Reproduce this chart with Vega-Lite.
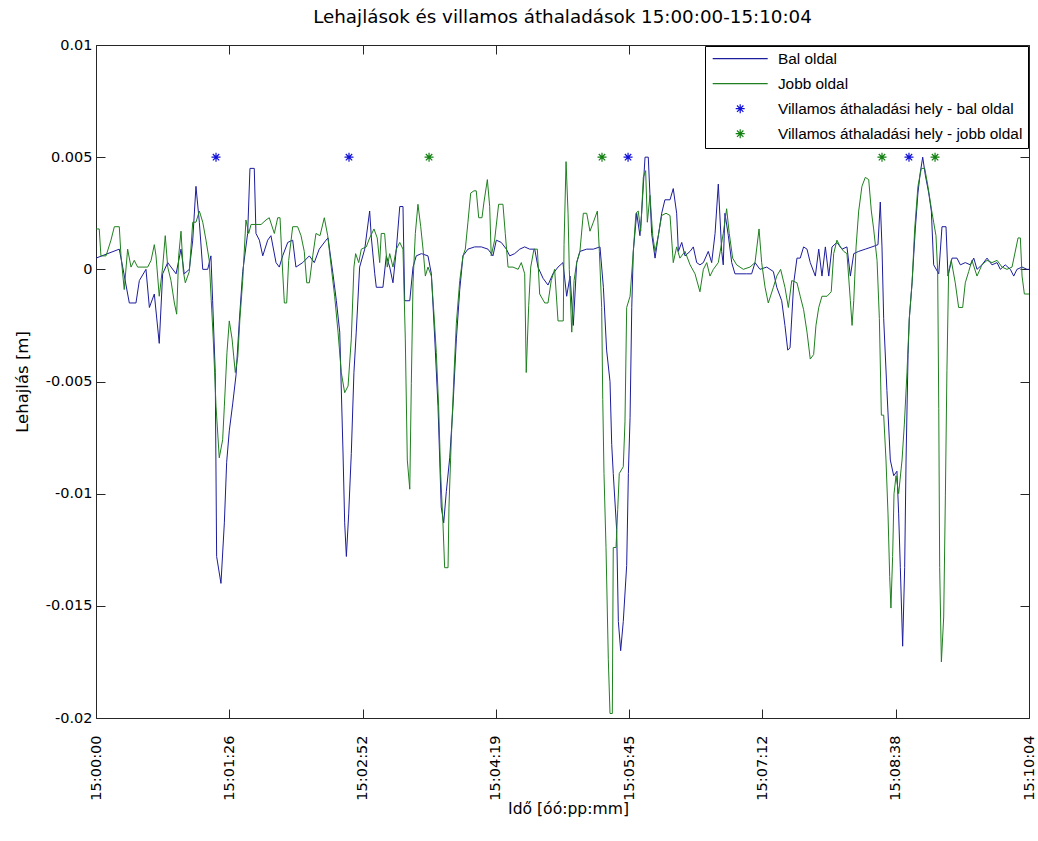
{
"$schema":"https://vega.github.io/schema/vega-lite/v6.json",
"width":933,"height":673,
"autosize":{"type":"none"},
"padding":{"left":96,"top":45,"right":9,"bottom":123},
"background":"white",
"title":{"text":"Lehajlások és villamos áthaladások 15:00:00-15:10:04","font":"DejaVu Sans","fontSize":18.3,"fontWeight":"normal","color":"#000","anchor":"middle","offset":10},
"config":{
"view":{"stroke":"#262626","strokeWidth":1},
"axis":{"grid":false,"domain":false,"tickColor":"#262626","tickSize":-9,"labelFont":"DejaVu Sans","labelFontSize":14.5,"labelColor":"#000","titleFont":"DejaVu Sans","titleFontWeight":"normal","titleColor":"#000","labelFlush":false,"labelOverlap":false},
"legend":{"title":null,"orient":"top-right","offset":1,"strokeColor":"#000","fillColor":"#fff","padding":5,"rowPadding":8,"symbolSize":100,"symbolStrokeWidth":1.2,"symbolOffset":22.5,"labelOffset":30,"labelFont":"Liberation Sans","labelFontSize":15.4,"labelColor":"#000","labelLimit":0,"cornerRadius":0}
},
"datasets":{
"lines":[
{"series":"Bal oldal","t":0,"v":0.0005},{"series":"Bal oldal","t":15.1,"v":0.0009},{"series":"Bal oldal","t":17.3,"v":0.0001},{"series":"Bal oldal","t":21.6,"v":-0.0015},{"series":"Bal oldal","t":25.9,"v":-0.0015},{"series":"Bal oldal","t":28.1,"v":-0.0005},{"series":"Bal oldal","t":32.4,"v":0},{"series":"Bal oldal","t":34.6,"v":-0.0017},{"series":"Bal oldal","t":37.8,"v":-0.0011},{"series":"Bal oldal","t":41.0,"v":-0.0033},{"series":"Bal oldal","t":43.2,"v":-0.0002},{"series":"Bal oldal","t":46.5,"v":0.0003},{"series":"Bal oldal","t":51.9,"v":-0.0002},{"series":"Bal oldal","t":55.1,"v":0.0009},{"series":"Bal oldal","t":57.2,"v":-0.0002},{"series":"Bal oldal","t":60.5,"v":0},{"series":"Bal oldal","t":62.7,"v":0.0013},{"series":"Bal oldal","t":64.8,"v":0.0037},{"series":"Bal oldal","t":67.0,"v":0.0021},{"series":"Bal oldal","t":69.2,"v":0},{"series":"Bal oldal","t":72.4,"v":0},{"series":"Bal oldal","t":74.5,"v":0.0006},{"series":"Bal oldal","t":75.6,"v":-0.0014},{"series":"Bal oldal","t":77.3,"v":-0.0046},{"series":"Bal oldal","t":78.2,"v":-0.0128},{"series":"Bal oldal","t":81.0,"v":-0.014},{"series":"Bal oldal","t":83.2,"v":-0.0113},{"series":"Bal oldal","t":84.7,"v":-0.0086},{"series":"Bal oldal","t":86.4,"v":-0.0072},{"series":"Bal oldal","t":88.6,"v":-0.006},{"series":"Bal oldal","t":90.8,"v":-0.0047},{"series":"Bal oldal","t":92.9,"v":-0.0023},{"series":"Bal oldal","t":95.1,"v":-0.0001},{"series":"Bal oldal","t":98.3,"v":0.0016},{"series":"Bal oldal","t":99.8,"v":0.0045},{"series":"Bal oldal","t":102.6,"v":0.0045},{"series":"Bal oldal","t":103.7,"v":0.0016},{"series":"Bal oldal","t":105.9,"v":0.0013},{"series":"Bal oldal","t":108.1,"v":0.0006},{"series":"Bal oldal","t":111.3,"v":0.0013},{"series":"Bal oldal","t":113.4,"v":0.0015},{"series":"Bal oldal","t":116.7,"v":0.0003},{"series":"Bal oldal","t":118.8,"v":0.0001},{"series":"Bal oldal","t":121.0,"v":0.0006},{"series":"Bal oldal","t":124.3,"v":0.0012},{"series":"Bal oldal","t":127.5,"v":0.0013},{"series":"Bal oldal","t":129.6,"v":0.0001},{"series":"Bal oldal","t":134.0,"v":0.0003},{"series":"Bal oldal","t":138.3,"v":0.0006},{"series":"Bal oldal","t":141.5,"v":0.0003},{"series":"Bal oldal","t":144.7,"v":0.0009},{"series":"Bal oldal","t":149.1,"v":0.0013},{"series":"Bal oldal","t":150.4,"v":0.0014},{"series":"Bal oldal","t":153.6,"v":-0.0002},{"series":"Bal oldal","t":155.8,"v":-0.0014},{"series":"Bal oldal","t":158.0,"v":-0.0028},{"series":"Bal oldal","t":160.1,"v":-0.0081},{"series":"Bal oldal","t":161.2,"v":-0.0113},{"series":"Bal oldal","t":162.3,"v":-0.0128},{"series":"Bal oldal","t":163.8,"v":-0.0109},{"series":"Bal oldal","t":165.5,"v":-0.0082},{"series":"Bal oldal","t":167.2,"v":-0.0046},{"series":"Bal oldal","t":168.7,"v":-0.0028},{"series":"Bal oldal","t":170.9,"v":0.0001},{"series":"Bal oldal","t":174.2,"v":0.0009},{"series":"Bal oldal","t":177.4,"v":0.0026},{"series":"Bal oldal","t":178.5,"v":0.0014},{"series":"Bal oldal","t":180.7,"v":-0.0002},{"series":"Bal oldal","t":181.7,"v":-0.0008},{"series":"Bal oldal","t":186.0,"v":-0.0008},{"series":"Bal oldal","t":188.2,"v":0.0006},{"series":"Bal oldal","t":190.4,"v":0.0001},{"series":"Bal oldal","t":192.5,"v":-0.0006},{"series":"Bal oldal","t":194.7,"v":0.0009},{"series":"Bal oldal","t":196.9,"v":0.0028},{"series":"Bal oldal","t":199.0,"v":0.0028},{"series":"Bal oldal","t":200.1,"v":-0.0014},{"series":"Bal oldal","t":203.4,"v":-0.0014},{"series":"Bal oldal","t":205.5,"v":0.0001},{"series":"Bal oldal","t":207.6,"v":0.0006},{"series":"Bal oldal","t":210.9,"v":0.0007},{"series":"Bal oldal","t":215.2,"v":0.0006},{"series":"Bal oldal","t":217.4,"v":-0.0002},{"series":"Bal oldal","t":219.6,"v":-0.0031},{"series":"Bal oldal","t":221.7,"v":-0.0061},{"series":"Bal oldal","t":223.8,"v":-0.0106},{"series":"Bal oldal","t":225.4,"v":-0.0113},{"series":"Bal oldal","t":227.1,"v":-0.0099},{"series":"Bal oldal","t":229.3,"v":-0.0084},{"series":"Bal oldal","t":231.4,"v":-0.0061},{"series":"Bal oldal","t":233.6,"v":-0.0031},{"series":"Bal oldal","t":235.8,"v":-0.0009},{"series":"Bal oldal","t":237.9,"v":0.0006},{"series":"Bal oldal","t":241.1,"v":0.0009},{"series":"Bal oldal","t":245.5,"v":0.001},{"series":"Bal oldal","t":249.8,"v":0.001},{"series":"Bal oldal","t":254.1,"v":0.0009},{"series":"Bal oldal","t":257.3,"v":0.0006},{"series":"Bal oldal","t":259.5,"v":0.0013},{"series":"Bal oldal","t":262.7,"v":0.0012},{"series":"Bal oldal","t":266.0,"v":0.0009},{"series":"Bal oldal","t":268.2,"v":0.0006},{"series":"Bal oldal","t":271.4,"v":0.0007},{"series":"Bal oldal","t":274.7,"v":0.0009},{"series":"Bal oldal","t":277.9,"v":0.001},{"series":"Bal oldal","t":281.1,"v":0.0009},{"series":"Bal oldal","t":284.4,"v":0.0009},{"series":"Bal oldal","t":286.5,"v":0.0001},{"series":"Bal oldal","t":289.8,"v":-0.0004},{"series":"Bal oldal","t":293.0,"v":-0.0007},{"series":"Bal oldal","t":296.2,"v":-0.0002},{"series":"Bal oldal","t":299.5,"v":0.0001},{"series":"Bal oldal","t":302.7,"v":0.0003},{"series":"Bal oldal","t":305.1,"v":-0.0012},{"series":"Bal oldal","t":307.3,"v":-0.0003},{"series":"Bal oldal","t":309.4,"v":-0.0025},{"series":"Bal oldal","t":311.6,"v":0.0003},{"series":"Bal oldal","t":313.7,"v":0.0008},{"series":"Bal oldal","t":318.1,"v":0.0009},{"series":"Bal oldal","t":322.4,"v":0.0009},{"series":"Bal oldal","t":326.7,"v":0.001},{"series":"Bal oldal","t":328.9,"v":-0.0008},{"series":"Bal oldal","t":331.0,"v":-0.0036},{"series":"Bal oldal","t":333.2,"v":-0.005},{"series":"Bal oldal","t":334.3,"v":-0.0078},{"series":"Bal oldal","t":335.3,"v":-0.0091},{"series":"Bal oldal","t":337.5,"v":-0.0116},{"series":"Bal oldal","t":338.6,"v":-0.0157},{"series":"Bal oldal","t":340.1,"v":-0.017},{"series":"Bal oldal","t":341.8,"v":-0.0157},{"series":"Bal oldal","t":344.0,"v":-0.0132},{"series":"Bal oldal","t":345.1,"v":-0.0091},{"series":"Bal oldal","t":346.2,"v":-0.0066},{"series":"Bal oldal","t":347.3,"v":-0.0017},{"series":"Bal oldal","t":348.3,"v":0.0008},{"series":"Bal oldal","t":350.5,"v":0.0025},{"series":"Bal oldal","t":352.6,"v":0.0015},{"series":"Bal oldal","t":353.7,"v":0.0025},{"series":"Bal oldal","t":355.9,"v":0.005},{"series":"Bal oldal","t":358.0,"v":0.005},{"series":"Bal oldal","t":359.1,"v":0.0033},{"series":"Bal oldal","t":360.2,"v":0.0016},{"series":"Bal oldal","t":362.4,"v":0.0005},{"series":"Bal oldal","t":364.5,"v":0.0015},{"series":"Bal oldal","t":366.7,"v":0.0025},{"series":"Bal oldal","t":368.8,"v":0.0031},{"series":"Bal oldal","t":372.1,"v":0.0031},{"series":"Bal oldal","t":374.2,"v":0.0036},{"series":"Bal oldal","t":376.4,"v":0.0025},{"series":"Bal oldal","t":377.5,"v":0.0008},{"series":"Bal oldal","t":379.7,"v":0.0012},{"series":"Bal oldal","t":381.8,"v":0.0006},{"series":"Bal oldal","t":385.1,"v":0.0008},{"series":"Bal oldal","t":387.2,"v":0.001},{"series":"Bal oldal","t":389.4,"v":0.0003},{"series":"Bal oldal","t":391.5,"v":0.0002},{"series":"Bal oldal","t":393.7,"v":0.0003},{"series":"Bal oldal","t":396.9,"v":0.0008},{"series":"Bal oldal","t":399.1,"v":0.0003},{"series":"Bal oldal","t":401.3,"v":0.0016},{"series":"Bal oldal","t":403.4,"v":0.0038},{"series":"Bal oldal","t":405.6,"v":0.0008},{"series":"Bal oldal","t":406.6,"v":0.0002},{"series":"Bal oldal","t":407.7,"v":0.0025},{"series":"Bal oldal","t":409.9,"v":0.0015},{"series":"Bal oldal","t":412.1,"v":0.0003},{"series":"Bal oldal","t":414.2,"v":-0.0002},{"series":"Bal oldal","t":421.8,"v":-0.0002},{"series":"Bal oldal","t":425.0,"v":-0.0002},{"series":"Bal oldal","t":427.2,"v":0.0003},{"series":"Bal oldal","t":430.4,"v":0},{"series":"Bal oldal","t":434.8,"v":0.0001},{"series":"Bal oldal","t":439.1,"v":-0.0001},{"series":"Bal oldal","t":441.3,"v":-0.0008},{"series":"Bal oldal","t":444.5,"v":-0.0014},{"series":"Bal oldal","t":446.6,"v":-0.0025},{"series":"Bal oldal","t":448.4,"v":-0.0036},{"series":"Bal oldal","t":449.9,"v":-0.0035},{"series":"Bal oldal","t":452.3,"v":-0.0006},{"series":"Bal oldal","t":454.4,"v":0.0005},{"series":"Bal oldal","t":456.5,"v":0.0005},{"series":"Bal oldal","t":458.7,"v":0.001},{"series":"Bal oldal","t":460.9,"v":0.0009},{"series":"Bal oldal","t":463.0,"v":0.0003},{"series":"Bal oldal","t":466.3,"v":-0.0003},{"series":"Bal oldal","t":468.5,"v":0.0009},{"series":"Bal oldal","t":470.6,"v":-0.0003},{"series":"Bal oldal","t":472.8,"v":0.001},{"series":"Bal oldal","t":475.0,"v":-0.0003},{"series":"Bal oldal","t":477.1,"v":0.001},{"series":"Bal oldal","t":480.3,"v":0.0012},{"series":"Bal oldal","t":483.6,"v":0.0009},{"series":"Bal oldal","t":486.8,"v":0.001},{"series":"Bal oldal","t":489.0,"v":-0.0003},{"series":"Bal oldal","t":491.2,"v":0.0007},{"series":"Bal oldal","t":494.4,"v":0.0008},{"series":"Bal oldal","t":498.7,"v":0.0009},{"series":"Bal oldal","t":503.0,"v":0.001},{"series":"Bal oldal","t":506.9,"v":0.0011},{"series":"Bal oldal","t":508.4,"v":0.003},{"series":"Bal oldal","t":509.5,"v":0.001},{"series":"Bal oldal","t":510.6,"v":-0.0022},{"series":"Bal oldal","t":512.7,"v":-0.0054},{"series":"Bal oldal","t":514.9,"v":-0.0085},{"series":"Bal oldal","t":517.1,"v":-0.0092},{"series":"Bal oldal","t":519.2,"v":-0.009},{"series":"Bal oldal","t":520.3,"v":-0.0109},{"series":"Bal oldal","t":521.4,"v":-0.0133},{"series":"Bal oldal","t":522.9,"v":-0.0168},{"series":"Bal oldal","t":524.2,"v":-0.0133},{"series":"Bal oldal","t":525.1,"v":-0.0085},{"series":"Bal oldal","t":526.4,"v":-0.0038},{"series":"Bal oldal","t":527.2,"v":-0.0022},{"series":"Bal oldal","t":529.0,"v":-0.0006},{"series":"Bal oldal","t":531.1,"v":0.0018},{"series":"Bal oldal","t":532.8,"v":0.0034},{"series":"Bal oldal","t":534.3,"v":0.0043},{"series":"Bal oldal","t":535.9,"v":0.005},{"series":"Bal oldal","t":537.6,"v":0.0042},{"series":"Bal oldal","t":539.8,"v":0.0034},{"series":"Bal oldal","t":541.5,"v":0.0026},{"series":"Bal oldal","t":543.0,"v":0.0002},{"series":"Bal oldal","t":546.3,"v":-0.0002},{"series":"Bal oldal","t":548.4,"v":0.0019},{"series":"Bal oldal","t":551.0,"v":0.0019},{"series":"Bal oldal","t":552.3,"v":-0.0003},{"series":"Bal oldal","t":554.9,"v":0.0005},{"series":"Bal oldal","t":558.1,"v":0.0005},{"series":"Bal oldal","t":560.3,"v":0.0002},{"series":"Bal oldal","t":563.5,"v":0.0003},{"series":"Bal oldal","t":566.8,"v":0.0002},{"series":"Bal oldal","t":569.0,"v":0.0005},{"series":"Bal oldal","t":571.1,"v":0},{"series":"Bal oldal","t":574.3,"v":0.0002},{"series":"Bal oldal","t":577.6,"v":0.0005},{"series":"Bal oldal","t":580.8,"v":0.0002},{"series":"Bal oldal","t":584.1,"v":0.0003},{"series":"Bal oldal","t":586.2,"v":0},{"series":"Bal oldal","t":589.4,"v":0.0002},{"series":"Bal oldal","t":592.7,"v":0},{"series":"Bal oldal","t":594.9,"v":-0.0003},{"series":"Bal oldal","t":597.0,"v":0},{"series":"Bal oldal","t":600.3,"v":0.0001},{"series":"Bal oldal","t":603.5,"v":0},{"series":"Bal oldal","t":604.8,"v":0},
{"series":"Jobb oldal","t":0,"v":0.0018},{"series":"Jobb oldal","t":2.1,"v":0.0018},{"series":"Jobb oldal","t":3.2,"v":0.0006},{"series":"Jobb oldal","t":6.5,"v":0.0006},{"series":"Jobb oldal","t":9.7,"v":0.0013},{"series":"Jobb oldal","t":11.9,"v":0.0019},{"series":"Jobb oldal","t":15.1,"v":0.0019},{"series":"Jobb oldal","t":16.2,"v":0.0006},{"series":"Jobb oldal","t":18.3,"v":-0.0009},{"series":"Jobb oldal","t":20.5,"v":0.0009},{"series":"Jobb oldal","t":22.7,"v":0.0001},{"series":"Jobb oldal","t":24.8,"v":0.0004},{"series":"Jobb oldal","t":27.0,"v":0.0001},{"series":"Jobb oldal","t":33.5,"v":0.0001},{"series":"Jobb oldal","t":35.7,"v":0.0004},{"series":"Jobb oldal","t":37.8,"v":0.0011},{"series":"Jobb oldal","t":38.9,"v":0.0006},{"series":"Jobb oldal","t":41.0,"v":-0.0012},{"series":"Jobb oldal","t":43.2,"v":0.0001},{"series":"Jobb oldal","t":44.9,"v":0.0015},{"series":"Jobb oldal","t":46.5,"v":0.0001},{"series":"Jobb oldal","t":48.6,"v":-0.0005},{"series":"Jobb oldal","t":50.8,"v":-0.0015},{"series":"Jobb oldal","t":52.3,"v":-0.002},{"series":"Jobb oldal","t":53.6,"v":0.0006},{"series":"Jobb oldal","t":55.1,"v":0.0017},{"series":"Jobb oldal","t":56.6,"v":-0.0001},{"series":"Jobb oldal","t":57.9,"v":-0.0006},{"series":"Jobb oldal","t":60.5,"v":-0.0001},{"series":"Jobb oldal","t":62.7,"v":0.0021},{"series":"Jobb oldal","t":64.8,"v":0.0021},{"series":"Jobb oldal","t":67.0,"v":0.0026},{"series":"Jobb oldal","t":69.2,"v":0.0021},{"series":"Jobb oldal","t":71.3,"v":0.0013},{"series":"Jobb oldal","t":73.4,"v":0.0004},{"series":"Jobb oldal","t":74.5,"v":-0.0011},{"series":"Jobb oldal","t":76.0,"v":-0.0031},{"series":"Jobb oldal","t":77.8,"v":-0.0061},{"series":"Jobb oldal","t":79.9,"v":-0.0084},{"series":"Jobb oldal","t":82.1,"v":-0.0076},{"series":"Jobb oldal","t":83.2,"v":-0.0061},{"series":"Jobb oldal","t":84.9,"v":-0.0037},{"series":"Jobb oldal","t":86.4,"v":-0.0023},{"series":"Jobb oldal","t":88.2,"v":-0.0031},{"series":"Jobb oldal","t":89.3,"v":-0.0039},{"series":"Jobb oldal","t":90.3,"v":-0.0046},{"series":"Jobb oldal","t":91.9,"v":-0.0039},{"series":"Jobb oldal","t":93.3,"v":-0.0022},{"series":"Jobb oldal","t":95.1,"v":-0.0005},{"series":"Jobb oldal","t":97.2,"v":0.0022},{"series":"Jobb oldal","t":99.0,"v":0.0016},{"series":"Jobb oldal","t":100.5,"v":0.002},{"series":"Jobb oldal","t":103.7,"v":0.002},{"series":"Jobb oldal","t":107.0,"v":0.002},{"series":"Jobb oldal","t":110.2,"v":0.0022},{"series":"Jobb oldal","t":112.3,"v":0.0023},{"series":"Jobb oldal","t":115.6,"v":0.0016},{"series":"Jobb oldal","t":117.8,"v":0.0023},{"series":"Jobb oldal","t":119.3,"v":0.0023},{"series":"Jobb oldal","t":120.6,"v":0.0004},{"series":"Jobb oldal","t":122.1,"v":-0.0015},{"series":"Jobb oldal","t":123.6,"v":-0.0015},{"series":"Jobb oldal","t":124.9,"v":0.0004},{"series":"Jobb oldal","t":127.5,"v":0.0019},{"series":"Jobb oldal","t":130.7,"v":0.0019},{"series":"Jobb oldal","t":132.9,"v":0.0015},{"series":"Jobb oldal","t":135.0,"v":0.0008},{"series":"Jobb oldal","t":136.6,"v":-0.0006},{"series":"Jobb oldal","t":138.3,"v":-0.0006},{"series":"Jobb oldal","t":140.5,"v":0.0006},{"series":"Jobb oldal","t":142.6,"v":0.0016},{"series":"Jobb oldal","t":145.2,"v":0.0015},{"series":"Jobb oldal","t":148.0,"v":0.0023},{"series":"Jobb oldal","t":150.2,"v":0.0015},{"series":"Jobb oldal","t":152.5,"v":0.0001},{"series":"Jobb oldal","t":154.7,"v":-0.0012},{"series":"Jobb oldal","t":156.9,"v":-0.0028},{"series":"Jobb oldal","t":159.0,"v":-0.0046},{"series":"Jobb oldal","t":161.2,"v":-0.0055},{"series":"Jobb oldal","t":163.4,"v":-0.0052},{"series":"Jobb oldal","t":165.5,"v":-0.0031},{"series":"Jobb oldal","t":167.2,"v":0.0001},{"series":"Jobb oldal","t":168.3,"v":0.0007},{"series":"Jobb oldal","t":170.3,"v":0.0003},{"series":"Jobb oldal","t":172.0,"v":0.0009},{"series":"Jobb oldal","t":175.2,"v":0.001},{"series":"Jobb oldal","t":177.4,"v":0.0014},{"series":"Jobb oldal","t":180.2,"v":0.0018},{"series":"Jobb oldal","t":182.3,"v":0.0014},{"series":"Jobb oldal","t":183.9,"v":0.0003},{"series":"Jobb oldal","t":184.9,"v":0.0016},{"series":"Jobb oldal","t":187.1,"v":0.0016},{"series":"Jobb oldal","t":188.8,"v":0.0001},{"series":"Jobb oldal","t":190.4,"v":0.0007},{"series":"Jobb oldal","t":192.5,"v":0.0001},{"series":"Jobb oldal","t":194.7,"v":0.0009},{"series":"Jobb oldal","t":196.9,"v":0.0012},{"series":"Jobb oldal","t":199.0,"v":0.0009},{"series":"Jobb oldal","t":200.5,"v":-0.0031},{"series":"Jobb oldal","t":201.8,"v":-0.0085},{"series":"Jobb oldal","t":203.4,"v":-0.0098},{"series":"Jobb oldal","t":204.4,"v":-0.0051},{"series":"Jobb oldal","t":205.5,"v":-0.0006},{"series":"Jobb oldal","t":207.0,"v":0.0016},{"series":"Jobb oldal","t":208.7,"v":0.0029},{"series":"Jobb oldal","t":210.5,"v":0.0019},{"series":"Jobb oldal","t":212.0,"v":0.0009},{"series":"Jobb oldal","t":213.5,"v":-0.0003},{"series":"Jobb oldal","t":215.2,"v":0.0001},{"series":"Jobb oldal","t":217.4,"v":-0.0003},{"series":"Jobb oldal","t":219.1,"v":-0.002},{"series":"Jobb oldal","t":220.6,"v":-0.0037},{"series":"Jobb oldal","t":222.1,"v":-0.0061},{"series":"Jobb oldal","t":223.4,"v":-0.0091},{"series":"Jobb oldal","t":224.9,"v":-0.0113},{"series":"Jobb oldal","t":226.0,"v":-0.0133},{"series":"Jobb oldal","t":228.2,"v":-0.0133},{"series":"Jobb oldal","t":228.8,"v":-0.0106},{"series":"Jobb oldal","t":230.3,"v":-0.0076},{"series":"Jobb oldal","t":232.1,"v":-0.0046},{"series":"Jobb oldal","t":233.6,"v":-0.0024},{"series":"Jobb oldal","t":235.8,"v":-0.0005},{"series":"Jobb oldal","t":237.9,"v":0.0006},{"series":"Jobb oldal","t":239.4,"v":0.0009},{"series":"Jobb oldal","t":241.1,"v":0.0021},{"series":"Jobb oldal","t":242.9,"v":0.0034},{"series":"Jobb oldal","t":245.0,"v":0.0035},{"series":"Jobb oldal","t":246.5,"v":0.0035},{"series":"Jobb oldal","t":248.1,"v":0.0023},{"series":"Jobb oldal","t":250.2,"v":0.0023},{"series":"Jobb oldal","t":251.5,"v":0.003},{"series":"Jobb oldal","t":253.7,"v":0.004},{"series":"Jobb oldal","t":255.2,"v":0.0028},{"series":"Jobb oldal","t":256.2,"v":0.0006},{"series":"Jobb oldal","t":258.4,"v":0.0013},{"series":"Jobb oldal","t":261.0,"v":0.0029},{"series":"Jobb oldal","t":263.8,"v":0.0029},{"series":"Jobb oldal","t":265.3,"v":0.0016},{"series":"Jobb oldal","t":267.1,"v":0.0001},{"series":"Jobb oldal","t":270.3,"v":0.0001},{"series":"Jobb oldal","t":273.6,"v":0},{"series":"Jobb oldal","t":275.7,"v":0.0003},{"series":"Jobb oldal","t":277.9,"v":-0.0002},{"series":"Jobb oldal","t":278.9,"v":-0.0046},{"series":"Jobb oldal","t":280.5,"v":-0.0016},{"series":"Jobb oldal","t":281.8,"v":0.0001},{"series":"Jobb oldal","t":283.9,"v":0.0009},{"series":"Jobb oldal","t":286.1,"v":0.0009},{"series":"Jobb oldal","t":287.6,"v":-0.0011},{"series":"Jobb oldal","t":290.9,"v":-0.0015},{"series":"Jobb oldal","t":293.0,"v":-0.0015},{"series":"Jobb oldal","t":295.1,"v":-0.0005},{"series":"Jobb oldal","t":297.3,"v":0},{"series":"Jobb oldal","t":299.5,"v":-0.0023},{"series":"Jobb oldal","t":302.9,"v":-0.0023},{"series":"Jobb oldal","t":303.4,"v":0.0011},{"series":"Jobb oldal","t":304.7,"v":0.0048},{"series":"Jobb oldal","t":306.0,"v":0.0025},{"series":"Jobb oldal","t":306.8,"v":0},{"series":"Jobb oldal","t":308.4,"v":-0.0028},{"series":"Jobb oldal","t":309.9,"v":-0.0005},{"series":"Jobb oldal","t":311.6,"v":0.0003},{"series":"Jobb oldal","t":313.7,"v":0.0008},{"series":"Jobb oldal","t":315.9,"v":0.0025},{"series":"Jobb oldal","t":318.1,"v":0.0025},{"series":"Jobb oldal","t":320.2,"v":0.0017},{"series":"Jobb oldal","t":322.4,"v":0.0021},{"series":"Jobb oldal","t":325.0,"v":0.0026},{"series":"Jobb oldal","t":326.3,"v":0.0008},{"series":"Jobb oldal","t":327.8,"v":-0.0017},{"series":"Jobb oldal","t":328.5,"v":-0.0058},{"series":"Jobb oldal","t":329.3,"v":-0.0091},{"series":"Jobb oldal","t":330.6,"v":-0.0124},{"series":"Jobb oldal","t":332.1,"v":-0.0174},{"series":"Jobb oldal","t":333.2,"v":-0.0198},{"series":"Jobb oldal","t":334.7,"v":-0.0198},{"series":"Jobb oldal","t":335.3,"v":-0.0124},{"series":"Jobb oldal","t":337.1,"v":-0.0124},{"series":"Jobb oldal","t":338.2,"v":-0.0107},{"series":"Jobb oldal","t":339.2,"v":-0.0091},{"series":"Jobb oldal","t":341.8,"v":-0.0088},{"series":"Jobb oldal","t":342.9,"v":-0.0068},{"series":"Jobb oldal","t":344.0,"v":-0.0017},{"series":"Jobb oldal","t":346.2,"v":-0.0012},{"series":"Jobb oldal","t":348.3,"v":0.0008},{"series":"Jobb oldal","t":350.0,"v":0.0025},{"series":"Jobb oldal","t":351.5,"v":0.0026},{"series":"Jobb oldal","t":353.1,"v":0.0017},{"series":"Jobb oldal","t":354.8,"v":0.0041},{"series":"Jobb oldal","t":356.3,"v":0.0044},{"series":"Jobb oldal","t":357.4,"v":0.0021},{"series":"Jobb oldal","t":359.1,"v":0.0033},{"series":"Jobb oldal","t":360.9,"v":0.0015},{"series":"Jobb oldal","t":362.4,"v":0.0008},{"series":"Jobb oldal","t":364.5,"v":0.0015},{"series":"Jobb oldal","t":366.7,"v":0.0024},{"series":"Jobb oldal","t":369.5,"v":0.0025},{"series":"Jobb oldal","t":372.1,"v":0.0024},{"series":"Jobb oldal","t":374.2,"v":0.0003},{"series":"Jobb oldal","t":376.4,"v":0.001},{"series":"Jobb oldal","t":378.5,"v":0.0005},{"series":"Jobb oldal","t":381.8,"v":0.0008},{"series":"Jobb oldal","t":385.1,"v":0.0002},{"series":"Jobb oldal","t":388.3,"v":-0.0002},{"series":"Jobb oldal","t":391.5,"v":-0.001},{"series":"Jobb oldal","t":393.7,"v":0},{"series":"Jobb oldal","t":395.9,"v":0.0003},{"series":"Jobb oldal","t":398.0,"v":-0.0003},{"series":"Jobb oldal","t":400.2,"v":0},{"series":"Jobb oldal","t":403.4,"v":0.0003},{"series":"Jobb oldal","t":406.6,"v":0.0016},{"series":"Jobb oldal","t":408.8,"v":0.0027},{"series":"Jobb oldal","t":410.5,"v":0.0016},{"series":"Jobb oldal","t":412.7,"v":0.0005},{"series":"Jobb oldal","t":415.3,"v":0.0002},{"series":"Jobb oldal","t":419.6,"v":0},{"series":"Jobb oldal","t":423.9,"v":0.0001},{"series":"Jobb oldal","t":427.2,"v":0.0003},{"series":"Jobb oldal","t":429.8,"v":0.0018},{"series":"Jobb oldal","t":431.5,"v":0.0003},{"series":"Jobb oldal","t":433.7,"v":-0.0008},{"series":"Jobb oldal","t":435.8,"v":-0.0015},{"series":"Jobb oldal","t":439.1,"v":-0.0008},{"series":"Jobb oldal","t":441.3,"v":-0.0003},{"series":"Jobb oldal","t":443.8,"v":0},{"series":"Jobb oldal","t":446.6,"v":-0.0008},{"series":"Jobb oldal","t":448.8,"v":-0.0017},{"series":"Jobb oldal","t":451.0,"v":-0.0005},{"series":"Jobb oldal","t":454.4,"v":-0.0006},{"series":"Jobb oldal","t":456.5,"v":-0.0012},{"series":"Jobb oldal","t":458.7,"v":-0.0018},{"series":"Jobb oldal","t":460.9,"v":-0.0028},{"series":"Jobb oldal","t":463.0,"v":-0.004},{"series":"Jobb oldal","t":465.2,"v":-0.0038},{"series":"Jobb oldal","t":466.7,"v":-0.0025},{"series":"Jobb oldal","t":468.5,"v":-0.0017},{"series":"Jobb oldal","t":470.6,"v":-0.0012},{"series":"Jobb oldal","t":473.9,"v":-0.0012},{"series":"Jobb oldal","t":476.6,"v":-0.001},{"series":"Jobb oldal","t":478.2,"v":0.0007},{"series":"Jobb oldal","t":480.3,"v":0.0013},{"series":"Jobb oldal","t":482.5,"v":0.001},{"series":"Jobb oldal","t":484.7,"v":0.0008},{"series":"Jobb oldal","t":486.8,"v":0.0007},{"series":"Jobb oldal","t":489.0,"v":-0.0014},{"series":"Jobb oldal","t":490.1,"v":-0.0025},{"series":"Jobb oldal","t":491.2,"v":-0.0014},{"series":"Jobb oldal","t":492.7,"v":0.001},{"series":"Jobb oldal","t":494.4,"v":0.0026},{"series":"Jobb oldal","t":496.5,"v":0.0037},{"series":"Jobb oldal","t":498.7,"v":0.0041},{"series":"Jobb oldal","t":500.9,"v":0.004},{"series":"Jobb oldal","t":502.6,"v":0.0026},{"series":"Jobb oldal","t":504.1,"v":0.0018},{"series":"Jobb oldal","t":506.3,"v":0.0004},{"series":"Jobb oldal","t":507.8,"v":-0.0022},{"series":"Jobb oldal","t":509.1,"v":-0.0065},{"series":"Jobb oldal","t":510.6,"v":-0.0065},{"series":"Jobb oldal","t":512.1,"v":-0.0085},{"series":"Jobb oldal","t":513.4,"v":-0.0109},{"series":"Jobb oldal","t":514.5,"v":-0.0137},{"series":"Jobb oldal","t":515.3,"v":-0.0151},{"series":"Jobb oldal","t":516.4,"v":-0.0128},{"series":"Jobb oldal","t":517.3,"v":-0.01},{"series":"Jobb oldal","t":518.6,"v":-0.0092},{"series":"Jobb oldal","t":520.3,"v":-0.01},{"series":"Jobb oldal","t":522.5,"v":-0.0085},{"series":"Jobb oldal","t":524.0,"v":-0.0069},{"series":"Jobb oldal","t":525.7,"v":-0.0046},{"series":"Jobb oldal","t":527.2,"v":-0.0022},{"series":"Jobb oldal","t":529.0,"v":-0.0006},{"series":"Jobb oldal","t":530.7,"v":0.0018},{"series":"Jobb oldal","t":532.8,"v":0.0037},{"series":"Jobb oldal","t":535.0,"v":0.0045},{"series":"Jobb oldal","t":537.2,"v":0.0045},{"series":"Jobb oldal","t":539.3,"v":0.0037},{"series":"Jobb oldal","t":541.5,"v":0.0027},{"series":"Jobb oldal","t":543.0,"v":0.0021},{"series":"Jobb oldal","t":544.5,"v":0.0015},{"series":"Jobb oldal","t":545.6,"v":-0.0001},{"series":"Jobb oldal","t":546.3,"v":-0.0062},{"series":"Jobb oldal","t":546.9,"v":-0.0133},{"series":"Jobb oldal","t":548.0,"v":-0.0175},{"series":"Jobb oldal","t":549.5,"v":-0.0155},{"series":"Jobb oldal","t":550.6,"v":-0.0101},{"series":"Jobb oldal","t":551.6,"v":-0.0045},{"series":"Jobb oldal","t":552.7,"v":-0.0001},{"series":"Jobb oldal","t":554.4,"v":0.0004},{"series":"Jobb oldal","t":557.0,"v":-0.0006},{"series":"Jobb oldal","t":559.2,"v":-0.0017},{"series":"Jobb oldal","t":561.8,"v":-0.0017},{"series":"Jobb oldal","t":563.5,"v":-0.0006},{"series":"Jobb oldal","t":565.7,"v":-0.0001},{"series":"Jobb oldal","t":567.8,"v":0.0004},{"series":"Jobb oldal","t":571.1,"v":-0.0003},{"series":"Jobb oldal","t":574.3,"v":0.0002},{"series":"Jobb oldal","t":577.6,"v":0.0004},{"series":"Jobb oldal","t":580.8,"v":0.0003},{"series":"Jobb oldal","t":584.1,"v":0.0004},{"series":"Jobb oldal","t":587.3,"v":0.0001},{"series":"Jobb oldal","t":590.5,"v":0},{"series":"Jobb oldal","t":593.8,"v":0.0001},{"series":"Jobb oldal","t":597.7,"v":0.0014},{"series":"Jobb oldal","t":599.2,"v":0.0014},{"series":"Jobb oldal","t":600.3,"v":-0.0003},{"series":"Jobb oldal","t":601.8,"v":-0.0011},{"series":"Jobb oldal","t":604.8,"v":-0.0011}
],
"marks":[
{"series":"Villamos áthaladási hely - bal oldal","t":77.8,"v":0.005},
{"series":"Villamos áthaladási hely - bal oldal","t":164.0,"v":0.005},
{"series":"Villamos áthaladási hely - bal oldal","t":344.9,"v":0.005},
{"series":"Villamos áthaladási hely - bal oldal","t":527.0,"v":0.005},
{"series":"Villamos áthaladási hely - jobb oldal","t":215.9,"v":0.005},
{"series":"Villamos áthaladási hely - jobb oldal","t":328.0,"v":0.005},
{"series":"Villamos áthaladási hely - jobb oldal","t":509.5,"v":0.005},
{"series":"Villamos áthaladási hely - jobb oldal","t":543.9,"v":0.005}
]
},
"layer":[
{"data":{"name":"lines"},
"mark":{"type":"line","strokeWidth":1,"interpolate":"linear"},
"encoding":{
"x":{"field":"t","type":"quantitative","scale":{"domain":[0,604.8],"nice":false,"zero":false},
"axis":{"orient":"bottom","values":[0,86.4,172.8,259.2,345.6,432,518.4,604.8],"labelAngle":270,"labelPadding":26,"labelExpr":"'15:' + (floor(datum.value/60) < 10 ? '0' : '') + floor(datum.value/60) + ':' + (floor(datum.value % 60) < 10 ? '0' : '') + floor(datum.value % 60)","title":"Idő [óó:pp:mm]","titleFontSize":15.6,"titleX":472,"titleY":90,"titleBaseline":"middle","titleAlign":"center"}},
"y":{"field":"v","type":"quantitative","scale":{"domain":[-0.02,0.01],"nice":false,"zero":false},
"axis":{"orient":"left","values":[-0.02,-0.015,-0.01,-0.005,0,0.005,0.01],"labelPadding":13,"labelExpr":"'' + datum.value","title":"Lehajlás [m]","titleFontSize":16.5,"titleX":-74,"titleY":336.5,"titleAngle":270,"titleBaseline":"middle","titleAlign":"center"}},
"color":{"field":"series","type":"nominal","scale":{"domain":["Bal oldal","Jobb oldal","Villamos áthaladási hely - bal oldal","Villamos áthaladási hely - jobb oldal"],"range":["#1c1c9c","#1f801f","#1010d8","#108010"]}}
}},
{"data":{"name":"marks"},
"mark":{"type":"point","filled":false,"strokeWidth":1.2,"size":100,"opacity":1},
"encoding":{
"x":{"field":"t","type":"quantitative","axis":{"orient":"top","values":[0,86.4,172.8,259.2,345.6,432,518.4,604.8],"labels":false,"title":null}},
"y":{"field":"v","type":"quantitative","axis":{"orient":"right","values":[-0.02,-0.015,-0.01,-0.005,0,0.005,0.01],"labels":false,"title":null}},
"color":{"field":"series","type":"nominal"},
"shape":{"field":"series","type":"nominal","scale":{"domain":["Bal oldal","Jobb oldal","Villamos áthaladási hely - bal oldal","Villamos áthaladási hely - jobb oldal"],"range":["M-5.5,0H5.5","M-5.5,0H5.5","M0,-0.9V0.9M-0.9,0H0.9M-0.64,-0.64L0.64,0.64M-0.64,0.64L0.64,-0.64","M0,-0.9V0.9M-0.9,0H0.9M-0.64,-0.64L0.64,0.64M-0.64,0.64L0.64,-0.64"]}}
}}
],
"resolve":{"axis":{"x":"independent","y":"independent"}}
}
